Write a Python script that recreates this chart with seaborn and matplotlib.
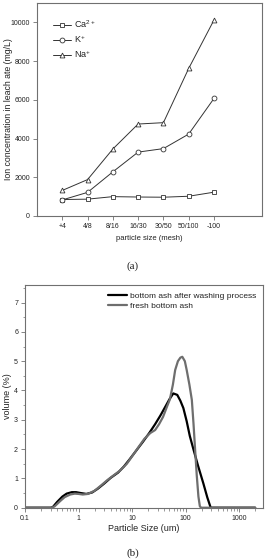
import numpy as np
import pandas as pd
import matplotlib
matplotlib.use("Agg")
import matplotlib.pyplot as plt
import seaborn as sns
from matplotlib.ticker import FixedLocator, MultipleLocator, LogLocator, NullFormatter

# (a) leaching data
mesh = ["+4", "4/8", "8/16", "16/30", "30/50", "50/100", "-100"]
ca = [850, 870, 1000, 980, 970, 1020, 1230]
k = [830, 1220, 2280, 3300, 3480, 4230, 6070]
na = [1320, 1880, 3460, 4750, 4820, 7620, 10120]

# (b) particle size distribution
washed_x = [0.1, 0.3, 0.33, 0.4, 0.5, 0.6, 0.75, 0.9, 1.1, 1.4, 1.8, 2.3, 3, 4, 5.5, 7, 9,
            12, 16, 21, 27, 34, 42, 50, 59, 70, 80, 91, 105, 120, 140, 170, 215, 255, 295, 2000]
washed_y = [0, 0, 0.02, 0.2, 0.38, 0.48, 0.53, 0.53, 0.5, 0.47, 0.52, 0.65, 0.82, 1.02, 1.2, 1.4, 1.65,
            1.95, 2.25, 2.55, 2.85, 3.15, 3.45, 3.7, 3.9, 3.85, 3.65, 3.4, 2.95, 2.45, 2.0, 1.45, 0.83, 0.35, 0, 0]
fresh_x = [0.1, 0.32, 0.36, 0.45, 0.55, 0.7, 0.85, 1.0, 1.2, 1.5, 2, 2.6, 3.5, 4.5, 6, 8, 10, 13, 17,
           22, 27, 32, 38, 45, 51, 58, 64, 72, 80, 87, 97, 105, 118, 131, 141, 151, 162, 174, 185, 195, 2000]
fresh_y = [0, 0, 0.05, 0.22, 0.36, 0.45, 0.48, 0.47, 0.45, 0.47, 0.58, 0.75, 0.95, 1.1, 1.27, 1.5, 1.75, 2.05, 2.35,
           2.55, 2.65, 2.85, 3.1, 3.45, 3.7, 4.2, 4.7, 5.0, 5.12, 5.15, 5.0, 4.7, 4.2, 3.68, 2.85, 1.97, 1.1, 0.38, 0.05, 0, 0]

sns.set_style("ticks")
plt.rcParams['font.family'] = ['Liberation Sans', 'DejaVu Sans']
plt.rcParams['mathtext.default'] = 'regular'
txt = '#222222'
spine = '#707070'

fig = plt.figure(figsize=(2.66, 5.59), dpi=100)
ax1 = fig.add_axes([37/266, (559-216)/559, 225/266, 213/559])
ax2 = fig.add_axes([25/266, (559-507.7)/559, 238/266, 222.7/559])

# ---- (a)
df_a = pd.DataFrame({"mesh": mesh * 3,
                     "pos": list(range(len(mesh))) * 3,
                     "conc": ca + k + na,
                     "ion": ["Ca$^{2+}$"] * 7 + ["K$^{+}$"] * 7 + ["Na$^{+}$"] * 7})
markers = {"Ca$^{2+}$": "s", "K$^{+}$": "o", "Na$^{+}$": "^"}
for ion, m in markers.items():
    sub = df_a[df_a["ion"] == ion]
    sns.lineplot(data=sub, x="pos", y="conc", ax=ax1, color='#333333', lw=0.7,
                 marker=m, ms=3.5, mfc='white', mec='#333333', mew=0.6, label=ion)
ax1.set_xlim(-1, 7.9)
ax1.set_ylim(0, 11000)
ax1.set_xticks(range(len(mesh)))
ax1.set_xticklabels(mesh)
ax1.set_yticks([0, 2000, 4000, 6000, 8000, 10000])
ax1.set_xlabel("particle size (mesh)", fontsize=5.5, color=txt, labelpad=4)
ax1.set_ylabel("Ion concentration in leach ate (mg/L)", fontsize=6.3, color=txt)
ax1.yaxis.set_label_coords(-24/225, 0.5)
ax1.tick_params(labelsize=5, colors=spine, labelcolor=txt, length=3, width=0.6, pad=2)
leg = ax1.legend(loc='upper left', frameon=False, fontsize=6.5, handlelength=2.0,
                 handletextpad=0.3, labelspacing=0.35, borderaxespad=0.6, bbox_to_anchor=(0.03, 0.97))
for t in leg.get_texts():
    t.set_color(txt)
for s in ax1.spines.values():
    s.set_color(spine)
    s.set_linewidth(0.8)
fig.text(133/266, 1 - 266/559, "(a)", ha='center', va='center', family='Liberation Serif',
         fontsize=8, color=txt)

# ---- (b)
df_w = pd.DataFrame({"size": washed_x, "vol": washed_y})
df_f = pd.DataFrame({"size": fresh_x, "vol": fresh_y})
sns.lineplot(data=df_w, x="size", y="vol", ax=ax2, color='black', lw=1.6,
             label="bottom ash after washing process")
sns.lineplot(data=df_f, x="size", y="vol", ax=ax2, color='#6e6e6e', lw=1.6,
             label="fresh bottom ash")
ax2.set_xscale('log')
ax2.set_xlim(0.1, 2800)
ax2.set_ylim(0, 7.6)
ax2.xaxis.set_major_locator(FixedLocator([0.1, 1, 10, 100, 1000]))
ax2.set_xticklabels(["0.1", "1", "10", "100", "1000"])
ax2.xaxis.set_minor_locator(LogLocator(base=10, subs=np.arange(2, 10)))
ax2.xaxis.set_minor_formatter(NullFormatter())
ax2.yaxis.set_major_locator(MultipleLocator(1))
ax2.yaxis.set_minor_locator(MultipleLocator(0.5))
ax2.set_xlabel("Particle Size (um)", fontsize=6.5, color=txt, labelpad=2)
ax2.set_ylabel("volume (%)", fontsize=6.5, color=txt)
ax2.yaxis.set_label_coords(-13/238, 0.5)
ax2.tick_params(which='major', labelsize=5, colors=spine, labelcolor=txt, length=3, width=0.6, pad=2)
ax2.tick_params(which='minor', colors=spine, length=1.8, width=0.5)
leg2 = ax2.legend(loc='upper right', frameon=False, fontsize=6, handlelength=2.2,
                  handletextpad=0.4, labelspacing=0.3, borderaxespad=0.4)
for t in leg2.get_texts():
    t.set_color(txt)
for s in ax2.spines.values():
    s.set_color(spine)
    s.set_linewidth(0.8)
fig.text(133/266, 1 - 553/559, "(b)", ha='center', va='center', family='Liberation Serif',
         fontsize=8, color=txt)

fig.savefig("out.png", dpi=100)
